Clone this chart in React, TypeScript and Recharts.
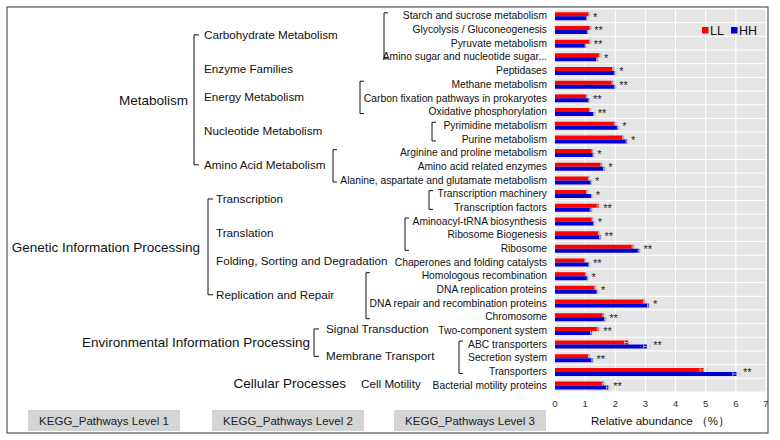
import {
  BarChart, Bar, XAxis, YAxis, CartesianGrid, ErrorBar, LabelList,
} from "recharts";

// KEGG level 3 pathways, top to bottom
const CATEGORIES = [
  "Starch and sucrose metabolism",
  "Glycolysis / Gluconeogenesis",
  "Pyruvate metabolism",
  "Amino sugar and nucleotide sugar...",
  "Peptidases",
  "Methane metabolism",
  "Carbon fixation pathways in prokaryotes",
  "Oxidative phosphorylation",
  "Pyrimidine metabolism",
  "Purine metabolism",
  "Arginine and proline metabolism",
  "Amino acid related enzymes",
  "Alanine, aspartate and glutamate metabolism",
  "Transcription machinery",
  "Transcription factors",
  "Aminoacyl-tRNA biosynthesis",
  "Ribosome Biogenesis",
  "Ribosome",
  "Chaperones and folding catalysts",
  "Homologous recombination",
  "DNA replication proteins",
  "DNA repair and recombination proteins",
  "Chromosome",
  "Two-component system",
  "ABC transporters",
  "Secretion system",
  "Transporters",
  "Bacterial motility proteins",
];

const LL = [1.14, 1.18, 1.17, 1.5, 1.94, 1.92, 1.06, 1.17, 2.0, 2.27, 1.25, 1.55, 1.13, 1.07,
  1.45, 1.25, 1.47, 2.6, 1.01, 1.03, 1.34, 2.97, 1.62, 1.45, 2.43, 1.14, 4.93, 1.61];
const HH = [1.07, 1.09, 1.02, 1.41, 2.0, 2.0, 1.14, 1.3, 2.1, 2.39, 1.28, 1.64, 1.21, 1.23,
  1.21, 1.3, 1.51, 2.8, 1.14, 1.09, 1.41, 3.11, 1.67, 1.22, 3.05, 1.25, 6.02, 1.77];
const ERR_LL = [0.02, 0.02, 0.02, 0.03, 0.03, 0.03, 0.02, 0.02, 0.03, 0.03, 0.02, 0.03, 0.02, 0.02,
  0.05, 0.02, 0.03, 0.04, 0.02, 0.02, 0.02, 0.04, 0.03, 0.05, 0.12, 0.03, 0.12, 0.04];
const ERR_HH = [0.02, 0.02, 0.02, 0.03, 0.03, 0.03, 0.02, 0.02, 0.03, 0.03, 0.02, 0.03, 0.02, 0.02,
  0.04, 0.02, 0.03, 0.04, 0.02, 0.02, 0.02, 0.04, 0.03, 0.04, 0.11, 0.03, 0.12, 0.06];
const SIG = ["*", "**", "**", "*", "*", "**", "**", "**", "*", "*", "*", "*", "*", "*",
  "**", "*", "**", "**", "**", "*", "*", "*", "**", "**", "**", "**", "**", "**"];

const X_TICKS = [0, 1, 2, 3, 4, 5, 6, 7];

// level 2 groups (row ranges into CATEGORIES)
const LEVEL2 = [
  { name: "Carbohydrate Metabolism", first: 0, last: 3 },
  { name: "Enzyme Families", first: 4, last: 4 },
  { name: "Energy Metabolism", first: 5, last: 7 },
  { name: "Nucleotide Metabolism", first: 8, last: 9 },
  { name: "Amino Acid Metabolism", first: 10, last: 12 },
  { name: "Transcription", first: 13, last: 14 },
  { name: "Translation", first: 15, last: 17 },
  { name: "Folding, Sorting and Degradation", first: 18, last: 18 },
  { name: "Replication and Repair", first: 19, last: 22 },
  { name: "Signal Transduction", first: 23, last: 23 },
  { name: "Membrane Transport", first: 24, last: 26 },
  { name: "Cell Motility", first: 27, last: 27 },
];

// level 1 groups (ranges into LEVEL2)
const LEVEL1 = [
  { name: "Metabolism", first: 0, last: 4 },
  { name: "Genetic Information Processing", first: 5, last: 8 },
  { name: "Environmental Information Processing", first: 9, last: 10 },
  { name: "Cellular Processes", first: 11, last: 11 },
];

const LEVEL_BOXES = ["KEGG_Pathways Level 1", "KEGG_Pathways Level 2", "KEGG_Pathways Level 3"];

const SERIES = [
  { key: "LL", color: "#ff0000" },
  { key: "HH", color: "#0000d0" },
];

// layout
const W = 780;
const H = 440;
const PLOT_LEFT = 555;
const PLOT_TOP = 9;
const PLOT_RIGHT = 766;
const PLOT_BOTTOM = 392;
const ROW_H = (PLOT_BOTTOM - PLOT_TOP) / CATEGORIES.length;
const FONT = "'Liberation Sans', Arial, sans-serif";

const L1_RIGHT = [188, 200, 310, 346];
const L1_BRACKET_X = [194, 208, 314, null];
const L2_X = [204, 216, 326, 361];
const L3_BRACKET_X = [384, null, 360, 432, 333, 429, 405, null, 366, null, 459, null];
const BOX_X = [28, 212, 394];

const data = CATEGORIES.map((name, i) => ({
  name,
  LL: LL[i],
  HH: HH[i],
  errLL: ERR_LL[i],
  errHH: ERR_HH[i],
  sig: SIG[i],
}));

const rowY = (i: number) => PLOT_TOP + (i + 0.5) * ROW_H;
const l2Y = (g: { first: number; last: number }) => (rowY(g.first) + rowY(g.last)) / 2 - 1.5;

const bracket = (x: number, y1: number, y2: number, t: number) =>
  `M${x + t},${y1} H${x} V${y2} H${x + t}`;

// plain single-line tick (no wrapping)
const CategoryTick = ({ x, y, payload }: any) => (
  <text x={x} y={y} dy="0.35em" textAnchor="end" fontSize={10.3} fill="#111" fontFamily={FONT}>
    {payload.value}
  </text>
);

const renderStar = (props: any) => {
  const { x, y, width, index, value } = props;
  if (x == null || !HH[index]) return null;
  const ppu = width / HH[index];
  const end = Math.max(LL[index] + ERR_LL[index], HH[index] + ERR_HH[index]);
  return (
    <text x={x + end * ppu + 3} y={y + 4.5} fontSize={11} fill="#222" fontFamily={FONT}>
      {value}
    </text>
  );
};

export default function App() {
  return (
    <div style={{ position: "absolute", left: 0, top: 0, width: W, height: H, background: "#fff" }}>
      <BarChart
        width={W}
        height={H}
        data={data}
        layout="vertical"
        margin={{ top: PLOT_TOP, right: W - PLOT_RIGHT, left: PLOT_LEFT - 200, bottom: H - PLOT_BOTTOM - 30 }}
        barCategoryGap="24%"
        barGap={0}
      >
        <CartesianGrid
          fill="#e5e5e5"
          stroke="#ffffff"
          strokeWidth={1}
          horizontalCoordinatesGenerator={({ offset }: any) =>
            Array.from({ length: CATEGORIES.length + 1 }, (_, i) => offset.top + (i * offset.height) / CATEGORIES.length)
          }
        />
        <XAxis
          type="number"
          domain={[0, 7]}
          ticks={X_TICKS}
          tickLine={false}
          axisLine={false}
          height={30}
          tick={{ fontSize: 9.5, fill: "#333", fontFamily: FONT }}
        />
        <YAxis
          type="category"
          dataKey="name"
          width={200}
          interval={0}
          tickLine={false}
          axisLine={false}
          tick={<CategoryTick />}
        />
        <Bar dataKey="LL" fill={SERIES[0].color} isAnimationActive={false}>
          <ErrorBar dataKey="errLL" direction="x" width={2} stroke="#c8c8c8" strokeWidth={0.8} />
        </Bar>
        <Bar dataKey="HH" fill={SERIES[1].color} isAnimationActive={false}>
          <ErrorBar dataKey="errHH" direction="x" width={2} stroke="#c8c8c8" strokeWidth={0.8} />
          <LabelList dataKey="sig" content={renderStar} />
        </Bar>
      </BarChart>

      <svg
        width={W}
        height={H}
        style={{ position: "absolute", left: 0, top: 0, pointerEvents: "none" }}
        fontFamily={FONT}
      >
        <rect x={7} y={7} width={761} height={426} fill="none" stroke="#555" strokeWidth={1.2} />

        {/* legend */}
        {SERIES.map((s, i) => (
          <g key={s.key}>
            <rect x={702 + i * 29} y={27} width={6.5} height={6.5} fill={s.color} />
            <text x={710 + i * 29} y={35} fontSize={12.5} fill="#111">{s.key}</text>
          </g>
        ))}

        {/* level 3 brackets */}
        {LEVEL2.map((g, i) =>
          L3_BRACKET_X[i] == null ? null : (
            <path key={g.name} d={bracket(L3_BRACKET_X[i] as number, rowY(g.first) - 3, rowY(g.last) + 2, 4)}
              fill="none" stroke="#111" strokeWidth={1} />
          )
        )}

        {/* level 2 labels + level 1 brackets/labels */}
        {LEVEL1.map((g1, k) => {
          const groups = LEVEL2.slice(g1.first, g1.last + 1);
          const yTop = l2Y(groups[0]);
          const yBot = l2Y(groups[groups.length - 1]);
          const bx = L1_BRACKET_X[k];
          return (
            <g key={g1.name}>
              {groups.map((g) => (
                <text key={g.name} x={L2_X[k]} y={l2Y(g)} dy="0.35em" fontSize={11.7} fill="#111">{g.name}</text>
              ))}
              {bx != null && (
                <path d={bracket(bx, yTop, yBot, 5)} fill="none" stroke="#111" strokeWidth={1} />
              )}
              <text x={L1_RIGHT[k]} y={(yTop + yBot) / 2} dy="0.35em" textAnchor="end" fontSize={13.5} fill="#111">
                {g1.name}
              </text>
            </g>
          );
        })}

        {/* level boxes */}
        {LEVEL_BOXES.map((t, i) => (
          <g key={t}>
            <rect x={BOX_X[i]} y={410} width={152} height={21} fill="#d4d4d4" />
            <text x={BOX_X[i] + 76} y={420.5} dy="0.35em" textAnchor="middle" fontSize={11.5} fill="#222">{t}</text>
          </g>
        ))}

        <text x={(PLOT_LEFT + PLOT_RIGHT) / 2} y={421} dy="0.35em" textAnchor="middle" fontSize={11.5} fill="#111">
          Relative abundance （%）
        </text>
      </svg>
    </div>
  );
}
